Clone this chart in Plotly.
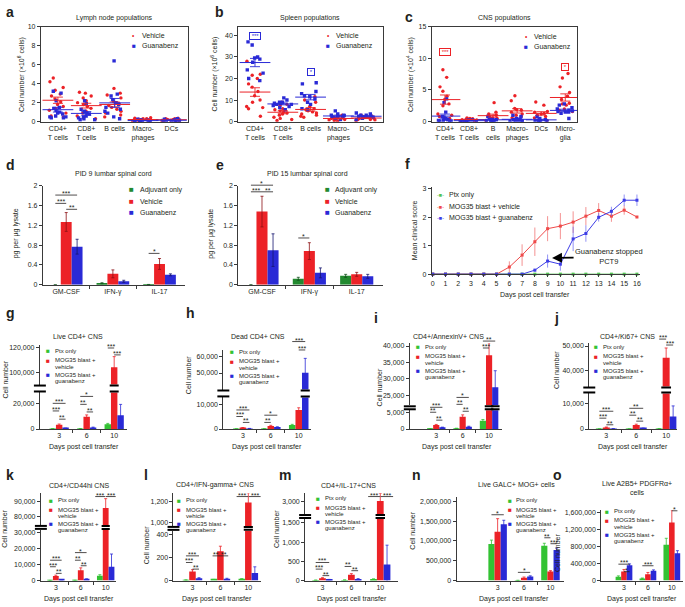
import numpy as np
import plotly.graph_objects as go

W, H = 685, 607
FONT = "Liberation Sans, Arial, Helvetica, sans-serif"
TXT = "#231f20"
AX = "#3a3a3a"
RED = "#ec2227"
BLUE = "#2a2ad6"
GREEN = "#33c233"
GREEN_D = "#22892f"

# ---------------- data ----------------
cells_ab = ["CD4+<br>T cells", "CD8+<br>T cells", "B cells", "Macro-<br>phages", "DCs"]
cells_c = ["CD4+<br>T cells", "CD8+<br>T cells", "B<br>cells", "Macro-<br>phages", "DCs", "Micro-<br>glia"]

lymph_vehicle = [
    [4.6, 4.2, 3.6, 3.3, 2.9, 2.7, 2.4, 2.1, 1.8, 1.6, 1.4, 1.2, 0.9, 0.6, 0.5],
    [3.1, 3.0, 2.7, 2.5, 2.2, 2.0, 1.8, 1.6, 1.4, 1.1, 0.9, 0.6, 0.4, 0.3],
    [3.5, 3.0, 2.8, 2.5, 2.1, 1.9, 1.7, 1.5, 1.3, 1.1, 0.9, 0.7, 0.5],
    [0.42, 0.36, 0.32, 0.3, 0.26, 0.22, 0.2, 0.16, 0.14, 0.1, 0.1, 0.08],
    [0.36, 0.32, 0.3, 0.26, 0.22, 0.2, 0.16, 0.14, 0.12, 0.1, 0.08],
]
lymph_guanabenz = [
    [3.2, 3.0, 2.2, 1.5, 1.4, 1.2, 1.0, 0.9, 0.8, 0.6, 0.5, 0.5, 0.4, 0.4],
    [2.2, 1.9, 1.3, 1.1, 0.9, 0.8, 0.6, 0.5, 0.4, 0.3, 0.2, 0.2],
    [6.4, 2.9, 2.7, 2.3, 2.0, 1.8, 1.5, 1.3, 1.1, 0.9, 0.5, 0.3],
    [0.26, 0.2, 0.16, 0.12, 0.1, 0.08, 0.06, 0.05, 0.04, 0.03],
    [0.3, 0.25, 0.2, 0.15, 0.12, 0.1, 0.08, 0.06, 0.05],
]
spleen_vehicle = [
    [28.0, 22.0, 21.5, 20.0, 17.5, 16.0, 14.0, 12.0, 10.0, 9.0, 7.0, 6.5, 6.0, 2.5],
    [9.0, 8.0, 7.5, 6.0, 5.5, 5.0, 4.5, 4.0, 3.5, 3.0, 2.0, 1.5, 1.0, 0.5],
    [11.5, 10.0, 9.0, 7.0, 6.0, 5.5, 5.0, 4.5, 4.0, 3.5, 3.0, 2.5, 2.0],
    [3.0, 2.5, 2.0, 2.0, 1.5, 1.5, 1.0, 1.0, 0.8, 0.5, 0.3],
    [3.0, 2.5, 2.5, 2.0, 2.0, 1.5, 1.5, 1.0, 1.0, 0.8, 0.5],
]
spleen_guanabenz = [
    [37.0, 35.5, 30.0, 29.5, 29.0, 27.5, 24.0, 22.5, 20.0, 19.0],
    [11.0, 10.0, 9.0, 9.0, 8.5, 8.5, 8.0, 8.0, 7.5, 7.0, 6.5, 5.5],
    [18.0, 17.5, 14.0, 13.0, 12.0, 11.5, 10.5, 9.0, 8.0, 6.0, 5.5],
    [5.0, 3.5, 3.0, 3.0, 2.8, 2.5, 2.0, 2.0, 1.5, 1.0],
    [4.0, 3.5, 3.0, 3.0, 2.5, 2.5, 2.0, 2.0, 1.5, 1.0],
]
cns_vehicle = [
    [8.2, 7.0, 5.5, 4.8, 4.0, 3.5, 2.8, 2.5, 1.2, 1.0, 0.8, 0.5],
    [0.6, 0.5, 0.45, 0.4, 0.35, 0.3, 0.3, 0.25, 0.2, 0.15, 0.1],
    [3.0, 1.5, 1.2, 1.0, 0.9, 0.8, 0.6, 0.5, 0.4, 0.3, 0.2],
    [4.1, 3.3, 2.1, 1.9, 1.8, 1.5, 1.2, 1.0, 0.8, 0.6, 0.4],
    [3.1, 2.6, 1.6, 1.5, 1.3, 1.2, 1.0, 0.8, 0.6, 0.4, 0.2],
    [7.6, 6.9, 5.5, 4.6, 4.0, 3.5, 2.9, 2.8, 2.6, 2.0, 1.8, 1.6],
]
cns_guanabenz = [
    [3.6, 3.0, 1.5, 0.8, 0.6, 0.5, 0.4, 0.3, 0.2, 0.2, 0.1, 0.1, 0.05],
    [0.3, 0.25, 0.2, 0.15, 0.1, 0.1, 0.05, 0.05],
    [0.8, 0.5, 0.4, 0.3, 0.2, 0.15, 0.1, 0.1, 0.05],
    [1.0, 0.8, 0.5, 0.4, 0.3, 0.2, 0.2, 0.1, 0.1, 0.05],
    [0.8, 0.5, 0.3, 0.2, 0.2, 0.1, 0.1, 0.05],
    [2.8, 2.6, 2.2, 2.0, 1.8, 1.7, 1.6, 1.5, 1.5, 1.3, 0.5],
]

cytokines = ["GM-CSF", "IFN-γ", "IL-17"]
pid9_adjuvant = [0.0, 0.03, 0.005]
pid9_adjuvant_err = [0.0, 0.01, 0.0]
pid9_vehicle = [1.27, 0.22, 0.42]
pid9_vehicle_err = [0.19, 0.08, 0.11]
pid9_guanabenz = [0.77, 0.07, 0.20]
pid9_guanabenz_err = [0.15, 0.02, 0.02]
pid15_adjuvant = [0.0, 0.12, 0.18]
pid15_adjuvant_err = [0.0, 0.03, 0.03]
pid15_vehicle = [1.48, 0.68, 0.21]
pid15_vehicle_err = [0.31, 0.17, 0.04]
pid15_guanabenz = [0.70, 0.24, 0.17]
pid15_guanabenz_err = [0.33, 0.10, 0.04]

days_f = [0, 1, 2, 3, 4, 5, 6, 7, 8, 9, 10, 11, 12, 13, 14, 15, 16]
score_ptx = [0, 0, 0, 0, 0, 0, 0, 0, 0, 0, 0, 0, 0, 0, 0, 0, 0]
score_vehicle = [0, 0, 0, 0, 0, 0, 0.25, 0.67, 1.14, 1.60, 1.69, 1.83, 2.04, 2.24, 2.04, 2.25, 2.01]
sem_vehicle = [0, 0, 0, 0, 0, 0, 0.2, 0.38, 0.5, 0.44, 0.46, 0.38, 0.32, 0.26, 0.2, 0.16, 0.0]
score_guanabenz = [0, 0, 0, 0, 0, 0, 0, 0, 0.14, 0.46, 0.35, 1.24, 1.43, 2.0, 2.21, 2.6, 2.6]
sem_guanabenz = [0, 0, 0, 0, 0, 0, 0, 0, 0.05, 0.23, 0.23, 0.43, 0.29, 0.15, 0.16, 0.2, 0.2]

days = ["3", "6", "10"]
live_cd4_ptx, live_cd4_ptx_err = [200, 300, 3800], [0, 0, 600]
live_cd4_veh, live_cd4_veh_err = [3300, 9500, 104500], [600, 1500, 8500]
live_cd4_gua, live_cd4_gua_err = [600, 1200, 10800], [100, 300, 8400]
dead_cd4_ptx, dead_cd4_ptx_err = [50, 100, 1600], [0, 0, 300]
dead_cd4_veh, dead_cd4_veh_err = [500, 1200, 7700], [100, 300, 900]
dead_cd4_gua, dead_cd4_gua_err = [200, 800, 50200], [50, 100, 8700]
annexin_ptx, annexin_ptx_err = [100, 200, 2500], [20, 50, 400]
annexin_veh, annexin_veh_err = [1200, 3700, 37200], [200, 600, 3800]
annexin_gua, annexin_gua_err = [500, 700, 27500], [80, 150, 5000]
ki67_ptx, ki67_ptx_err = [20, 30, 100], [0, 0, 0]
ki67_veh, ki67_veh_err = [650, 1600, 45200], [150, 300, 4000]
ki67_gua, ki67_gua_err = [100, 300, 4900], [30, 80, 4200]
cd44_ptx, cd44_ptx_err = [100, 150, 3100], [0, 0, 600]
cd44_veh, cd44_veh_err = [2800, 6500, 85500], [600, 1500, 6500]
cd44_gua, cd44_gua_err = [500, 900, 8700], [100, 200, 8000]
ifng_ptx, ifng_ptx_err = [5, 10, 15], [0, 0, 0]
ifng_veh, ifng_veh_err = [80, 255, 1190], [15, 45, 90]
ifng_gua, ifng_gua_err = [20, 15, 65], [5, 5, 55]
il17_ptx, il17_ptx_err = [10, 15, 40], [0, 0, 0]
il17_veh, il17_veh_err = [60, 150, 3000], [15, 30, 300]
il17_gua, il17_gua_err = [25, 40, 420], [5, 10, 500]
galc_ptx, galc_ptx_err = [920000, 5000, 880000], [100000, 2000, 60000]
galc_veh, galc_veh_err = [1230000, 70000, 230000], [330000, 20000, 20000]
galc_gua, galc_gua_err = [1420000, 100000, 770000], [100000, 20000, 50000]
a2b5_ptx, a2b5_ptx_err = [90000, 50000, 840000], [20000, 10000, 150000]
a2b5_veh, a2b5_veh_err = [210000, 150000, 1360000], [50000, 40000, 300000]
a2b5_gua, a2b5_gua_err = [360000, 230000, 640000], [30000, 20000, 60000]

# ---------------- helpers ----------------
fig = go.Figure()
shapes, annotations = [], []
layout = dict(width=W, height=H, margin=dict(l=0, r=0, t=0, b=0), paper_bgcolor="white",
              plot_bgcolor="white", showlegend=False, barmode="group", bargap=0.3,
              boxmode="overlay", font=dict(family=FONT, size=7, color=TXT))
BARW = (1 - 0.3) / 3
cnt = {"x": 0, "y": 0}


def X(px):
    return px / W


def Y(py):
    return 1 - py / H


def new_ax(letter):
    cnt[letter] += 1
    n = cnt[letter]
    return (f"{letter}axis" if n == 1 else f"{letter}axis{n}"), (letter if n == 1 else f"{letter}{n}")


def base_axis(**kw):
    d = dict(showline=True, linecolor=AX, linewidth=1, ticks="outside", ticklen=3, tickwidth=1,
             tickcolor=AX, showgrid=False, zeroline=False, fixedrange=True,
             tickfont=dict(family=FONT, size=7, color=TXT))
    d.update(kw)
    return d


def text(x, y, s, size=7, bold=False, angle=0, xanchor="center", yanchor="middle", color=TXT):
    annotations.append(dict(xref="paper", yref="paper", x=X(x), y=Y(y),
                            text=f"<b>{s}</b>" if bold else s, showarrow=False,
                            font=dict(family=FONT, size=size, color=color), textangle=angle,
                            xanchor=xanchor, yanchor=yanchor, align="center"))


def legend_block(xs, rows, labels, colors, symbols="■", size=7, sym_size=8, gap=5, line_dy=7):
    if isinstance(symbols, str):
        symbols = [symbols] * len(labels)
    for ypx, lab, col, sym in zip(rows, labels, colors, symbols):
        text(xs, ypx, f'<span style="color:{col}">{sym}</span>', size=sym_size)
        for k, line in enumerate(lab.split("<br>")):
            text(xs + gap, ypx + k * line_dy, line, size=size, xanchor="left")


def sig(xref, day, a, b, ypx, s):
    xa = day + (a - 1) * BARW
    xb = day + (b - 1) * BARW
    shapes.append(dict(type="line", xref=xref, yref="paper", x0=xa, x1=xb, y0=Y(ypx), y1=Y(ypx),
                       line=dict(color=TXT, width=0.8)))
    annotations.append(dict(xref=xref, yref="paper", x=(xa + xb) / 2, y=Y(ypx), text=s,
                            showarrow=False, yanchor="bottom", yshift=-4,
                            font=dict(family=FONT, size=7, color=TXT)))


def dot_panel(cats, veh, gua, x0, x1, ytop, ybot, yrange, yticks, xrange):
    xn, xr = new_ax("x")
    yn, yr = new_ax("y")
    layout[xn] = base_axis(domain=[X(x0), X(x1)], anchor=yr, type="category", range=xrange,
                           mirror=True, ticks="", categoryorder="array", categoryarray=cats)
    layout[yn] = base_axis(domain=[Y(ybot), Y(ytop)], anchor=xr, range=yrange, tickvals=yticks,
                           mirror=True)
    for vals, color, sym in ((veh, RED, "circle"), (gua, BLUE, "square")):
        xs = [c for c, v in zip(cats, vals) for _ in v]
        ys = [y for v in vals for y in v]
        fig.add_trace(go.Box(x=xs, y=ys, xaxis=xr, yaxis=yr, boxpoints="all", jitter=1, pointpos=0,
                             width=0.75, fillcolor="rgba(0,0,0,0)",
                             line=dict(width=0, color="rgba(0,0,0,0)"),
                             marker=dict(color=color, size=3.4, symbol=sym), hoverinfo="skip"))
    for vals, color in ((veh, RED), (gua, BLUE)):
        means = [float(np.mean(v)) for v in vals]
        sems = [float(np.std(v, ddof=1) / np.sqrt(len(v))) for v in vals]
        fig.add_trace(go.Scatter(x=cats, y=means, xaxis=xr, yaxis=yr, mode="markers",
                                 marker=dict(symbol="line-ew", size=22, line=dict(color=color, width=1)),
                                 error_y=dict(type="data", array=sems, color=color, thickness=0.9, width=5),
                                 hoverinfo="skip"))
    return xr, yr


def sig_box(xr, yr, cat, yval, s, color):
    annotations.append(dict(xref=xr, yref=yr, x=cat, y=yval, text=f"&nbsp;{s}&nbsp;", showarrow=False,
                            bordercolor=color, borderwidth=1, borderpad=0,
                            font=dict(family=FONT, size=6, color=color)))


def bar_x(ax_px, spacing, anchor, xrange, ticktext):
    xn, xr = new_ax("x")
    layout[xn] = base_axis(domain=[X(ax_px), X(ax_px + (xrange[1] - xrange[0]) * spacing)],
                           anchor=anchor, range=list(xrange), tickmode="array", tickvals=[0, 1, 2],
                           ticktext=ticktext, ticks="",
                           minor=dict(tickmode="array", tickvals=[0.5, 1.5], ticks="outside",
                                      ticklen=3, tickcolor=AX))
    return xr


def add_bars(xr, yr, series, errcolors=None, clip_top=None, upper=False):
    for k, (vals, errs, color) in enumerate(series):
        ec = errcolors[k] if errcolors else color
        if clip_top is not None:
            errs = [e if ((v > clip_top) == upper) else 0 for v, e in zip(vals, errs)]
        fig.add_trace(go.Bar(x=[0, 1, 2], y=vals, xaxis=xr, yaxis=yr, marker=dict(color=color, line=dict(width=0)),
                             error_y=dict(type="data", array=errs, color=ec, thickness=0.8, width=1.5),
                             hoverinfo="skip"))


def broken_panel(ax_px, spacing, xrange, lo_px, lo_rng, lo_ticks, up_px, up_rng, up_ticks, series):
    yln, ylr = new_ax("y")
    yun, yur = new_ax("y")
    xr = bar_x(ax_px, spacing, ylr, xrange, days)
    layout[yln] = base_axis(domain=[Y(lo_px[1]), Y(lo_px[0])], anchor=xr, range=lo_rng,
                            tickvals=lo_ticks, tickformat=",")
    layout[yun] = base_axis(domain=[Y(up_px[1]), Y(up_px[0])], anchor=xr, range=up_rng,
                            tickvals=up_ticks, tickformat=",")
    add_bars(xr, ylr, series, clip_top=lo_rng[1], upper=False)
    add_bars(xr, yur, series, clip_top=lo_rng[1], upper=True)
    for k, (vals, errs, color) in enumerate(series):
        for d, v in enumerate(vals):
            if v > lo_rng[1]:
                xc = d + (k - 1) * BARW
                for ypx in (lo_px[0] - 1, up_px[1] + 1):
                    shapes.append(dict(type="line", xref=xr, yref="paper", x0=xc - 0.7 * BARW,
                                       x1=xc + 0.7 * BARW, y0=Y(ypx), y1=Y(ypx),
                                       line=dict(color="black", width=2)))
    for ypx in (lo_px[0] - 1, up_px[1] + 1):
        shapes.append(dict(type="line", xref="paper", yref="paper", x0=X(ax_px - 6), x1=X(ax_px + 6),
                           y0=Y(ypx), y1=Y(ypx), line=dict(color="black", width=2)))
    return xr


def single_bar_panel(ax_px, spacing, xrange, px, rng, ticks, series):
    yn, yr = new_ax("y")
    xr = bar_x(ax_px, spacing, yr, xrange, days)
    layout[yn] = base_axis(domain=[Y(px[1]), Y(px[0])], anchor=xr, range=rng, tickvals=ticks,
                           tickformat=",")
    add_bars(xr, yr, series)
    return xr


GRP_LABELS = ["Ptx only", "MOG35 blast +<br>vehicle", "MOG35 blast +<br>guanabenz"]
GRP_COLORS = [GREEN, RED, BLUE]


def grp_legend(xs, y0):
    legend_block(xs, [y0, y0 + 9.5, y0 + 24], GRP_LABELS, GRP_COLORS, size=6, sym_size=6.5,
                 gap=5, line_dy=6.5)


DOT_SYMS = ["•", "■"]

# ---------------- a ----------------
xa_, ya_ = dot_panel(cells_ab, lymph_vehicle, lymph_guanabenz, 40, 188, 23, 119, [0, 10],
                     [0, 2, 4, 6, 8, 10], [-0.6, 4.6])
text(3, 8, "a", size=14, bold=True, xanchor="left")
text(114, 14, "Lymph node populations")
text(20, 71, "Cell number (×10<sup>6</sup> cells)", angle=-90)
legend_block(133, [32, 42], ["Vehicle", "Guanabenz"], [RED, BLUE], symbols=DOT_SYMS, sym_size=6.5, gap=6)

# ---------------- b ----------------
xb_, yb_ = dot_panel(cells_ab, spleen_vehicle, spleen_guanabenz, 238, 383, 23, 119, [0, 44],
                     [0, 10, 20, 30, 40], [-0.6, 4.6])
text(213, 8, "b", size=14, bold=True, xanchor="left")
text(310, 14, "Spleen populations")
text(214, 71, "Cell number (×10<sup>6</sup> cells)", angle=-90)
legend_block(328, [32, 42], ["Vehicle", "Guanabenz"], [RED, BLUE], symbols=DOT_SYMS, sym_size=6.5, gap=6)
sig_box(xb_, yb_, cells_ab[0], 39.5, "***", BLUE)
sig_box(xb_, yb_, cells_ab[2], 23, "*", BLUE)

# ---------------- c ----------------
xc_, yc_ = dot_panel(cells_c, cns_vehicle, cns_guanabenz, 432, 578, 23, 119, [0, 15],
                     [0, 5, 10, 15], [-0.55, 5.5])
text(403, 13, "c", size=14, bold=True, xanchor="left")
text(505, 14, "CNS populations")
text(410, 71, "Cell number (×10<sup>4</sup> cells)", angle=-90)
legend_block(527, [33, 43], ["Vehicle", "Guanabenz"], [RED, BLUE], symbols=DOT_SYMS, sym_size=6.5, gap=6)
sig_box(xc_, yc_, cells_c[0], 11, "***", RED)
sig_box(xc_, yc_, cells_c[5], 8.6, "*", RED)

# ---------------- d / e ----------------
CYTO_COLORS = [GREEN_D, RED, BLUE]
CYTO_ERR = ["#124f1a", "#8c1014", "#15156e"]
for (ax_px, spacing, series, letter, lx, title, tx, sigs) in (
    (42, 46.8, [(pid9_adjuvant, pid9_adjuvant_err, GREEN_D), (pid9_vehicle, pid9_vehicle_err, RED),
                (pid9_guanabenz, pid9_guanabenz_err, BLUE)], "d", 3, "PID 9 lumbar spinal cord", 113,
     [(0, 0, 2, 193.3, "***"), (0, 0, 1, 201.7, "***"), (0, 1, 2, 207.7, "**"), (2, 0, 1, 252.3, "*")]),
    (238, 47.5, [(pid15_adjuvant, pid15_adjuvant_err, GREEN_D), (pid15_vehicle, pid15_vehicle_err, RED),
                 (pid15_guanabenz, pid15_guanabenz_err, BLUE)], "e", 214, "PID 15 lumbar spinal cord", 307,
     [(0, 0, 2, 183.3, "*"), (0, 0, 1, 190, "***"), (0, 1, 2, 190, "**"), (1, 0, 1, 236.7, "*")]),
):
    yn, yr = new_ax("y")
    xr = bar_x(ax_px, spacing, yr, (-0.5, 2.55), cytokines)
    layout[yn] = base_axis(domain=[Y(284), Y(184)], anchor=xr, range=[0, 2],
                           tickvals=[0, 0.4, 0.8, 1.2, 1.6, 2])
    add_bars(xr, yr, series, errcolors=CYTO_ERR)
    for s in sigs:
        sig(xr, *s)
    text(lx, 163, letter, size=14, bold=True, xanchor="left")
    text(tx, 172, title)
    text(ax_px - 27, 232, "pg per µg lysate", angle=-90)
    legend_block(ax_px + 89, [188, 199.5, 211], ["Adjuvant only", "Vehicle", "Guanabenz"],
                 CYTO_COLORS, size=7, sym_size=8, gap=6)

# ---------------- f ----------------
yfn, yfr = new_ax("y")
xfn, xfr = new_ax("x")
layout[xfn] = base_axis(domain=[X(432), X(641)], anchor=yfr, range=[-0.08, 16.25],
                        tickvals=days_f, ticklen=2)
layout[yfn] = base_axis(domain=[Y(273.3), Y(185)], anchor=xfr, range=[0, 3.07], tickvals=[0, 1, 2, 3])
for ys, err, col, ecol in ((score_ptx, None, "#52c452", None),
                           (score_vehicle, sem_vehicle, "#ef4a4a", "rgba(240,110,110,0.75)"),
                           (score_guanabenz, sem_guanabenz, "#3d3de6", "rgba(110,110,240,0.75)")):
    fig.add_trace(go.Scatter(x=days_f, y=ys, xaxis=xfr, yaxis=yfr, mode="lines+markers",
                             line=dict(color=col, width=1), marker=dict(symbol="square", size=3, color=col),
                             error_y=(dict(type="data", array=err, color=ecol, thickness=1, width=0)
                                      if err else None),
                             cliponaxis=False, hoverinfo="skip"))
text(403, 162, "f", size=14, bold=True, xanchor="left")
text(415, 229, "Mean clinical score", angle=-90)
text(536, 294, "Days post cell transfer")
annotations.append(dict(xref=xfr, yref=yfr, x=9.35, y=0.57, ax=57, ay=-1, text="Guanabenz stopped<br>PCT9",
                        showarrow=True, arrowhead=2, arrowsize=1.1, arrowwidth=1.8, arrowcolor="black",
                        font=dict(family=FONT, size=7.5, color=TXT), align="center"))
legend_block(441, [193, 205, 216.5], ["Ptx only", "MOG35 blast + vehicle", "MOG35 blast + guanabenz"],
             ["#52c452", "#ef4a4a", "#3d3de6"], symbols="-■-", sym_size=5.5, gap=6)

# ---------------- g ----------------
xg = broken_panel(39, 27.6, (-0.7, 2.45), (393, 430), [0, 28500], [0, 20000], (345, 385),
                  [90400, 122400], [100000, 120000],
                  [(live_cd4_ptx, live_cd4_ptx_err, GREEN), (live_cd4_veh, live_cd4_veh_err, RED),
                   (live_cd4_gua, live_cd4_gua_err, BLUE)])
for s in [(0, 0, 2, 404, "***"), (0, 0, 1, 411.7, "***"), (0, 1, 2, 420, "**"),
          (1, 0, 2, 397, "*"), (1, 0, 1, 405, "**"), (1, 1, 2, 412.7, "**"),
          (2, 0, 1, 348, "***"), (2, 1, 2, 355, "***")]:
    sig(xg, *s)
text(3, 313, "g", size=14, bold=True, xanchor="left")
text(77, 336, "Live CD4+ CNS")
text(5, 380, "Cell number", angle=-90)
text(83, 448, "Days post cell transfer")
grp_legend(47, 351)

# ---------------- h ----------------
xh = broken_panel(223, 28, (-0.7, 2.45), (398, 430), [0, 12800], [0, 10000], (350, 390),
                  [40000, 64000], [50000, 60000],
                  [(dead_cd4_ptx, dead_cd4_ptx_err, GREEN), (dead_cd4_veh, dead_cd4_veh_err, RED),
                   (dead_cd4_gua, dead_cd4_gua_err, BLUE)])
for s in [(0, 0, 2, 410.7, "***"), (0, 0, 1, 417.3, "***"), (0, 1, 2, 423.3, "**"),
          (1, 0, 2, 416, "*"), (1, 0, 1, 423.3, "**"),
          (2, 0, 2, 341.5, "***"), (2, 1, 2, 350, "***")]:
    sig(xh, *s)
text(184, 313, "h", size=14, bold=True, xanchor="left")
text(258, 336, "Dead CD4+ CNS")
text(188, 375, "Cell number", angle=-90)
text(267, 448, "Days post cell transfer")
grp_legend(232, 352)

# ---------------- i ----------------
xi = broken_panel(410, 26.5, (-1.0, 2.5), (411, 430), [0, 5700], [0, 5000], (343, 406), [22000, 40900],
                  [25000, 30000, 35000, 40000],
                  [(annexin_ptx, annexin_ptx_err, GREEN), (annexin_veh, annexin_veh_err, RED),
                   (annexin_gua, annexin_gua_err, BLUE)])
for s in [(0, 0, 2, 408, "***"), (0, 0, 1, 413, "**"), (0, 1, 2, 421, "**"),
          (1, 0, 2, 398, "*"), (1, 0, 1, 405, "**"), (1, 1, 2, 412, "**"),
          (2, 0, 2, 341, "**"), (2, 0, 1, 348, "***")]:
    sig(xi, *s)
text(372, 318, "i", size=14, bold=True, xanchor="left")
text(449, 336, "CD4+/AnnexinV+ CNS")
text(380, 388, "Cell number", angle=-90)
text(457, 448, "Days post cell transfer")
grp_legend(418, 347)

# ---------------- j ----------------
xj = broken_panel(590, 30, (-0.57, 2.35), (394, 430), [0, 14000], [0, 10000], (343, 387),
                  [33600, 51200], [40000, 50000],
                  [(ki67_ptx, ki67_ptx_err, GREEN), (ki67_veh, ki67_veh_err, RED),
                   (ki67_gua, ki67_gua_err, BLUE)])
for s in [(0, 0, 2, 412, "***"), (0, 0, 1, 419, "***"), (0, 1, 2, 425.7, "**"),
          (1, 0, 2, 409, "**"), (1, 0, 1, 416, "**"), (1, 1, 2, 422, "**"),
          (2, 0, 1, 339, "***"), (2, 1, 2, 345, "***")]:
    sig(xj, *s)
text(553, 318, "j", size=14, bold=True, xanchor="left")
text(628, 336, "CD4+/Ki67+ CNS")
text(557, 370, "Cell number", angle=-90)
text(634, 448, "Days post cell transfer")
grp_legend(597, 347)

# ---------------- k ----------------
xk = broken_panel(40, 25, (-0.6, 2.4), (532, 583.3), [0, 31900], [0, 10000, 20000, 30000], (495, 527),
                  [73900, 95700], [80000, 90000],
                  [(cd44_ptx, cd44_ptx_err, GREEN), (cd44_veh, cd44_veh_err, RED),
                   (cd44_gua, cd44_gua_err, BLUE)])
for s in [(0, 0, 2, 562.7, "***"), (0, 0, 1, 569.3, "***"), (0, 1, 2, 576, "**"),
          (1, 0, 2, 555, "*"), (1, 0, 1, 562.7, "**"), (1, 1, 2, 568.3, "**"),
          (2, -0.8, 0.95, 498.3, "***"), (2, 1.05, 2.9, 498.3, "***")]:
    sig(xk, *s)
text(3, 476, "k", size=14, bold=True, xanchor="left")
text(78, 487, "CD4+/CD44hi CNS")
text(4, 531, "Cell number", angle=-90)
text(78, 602, "Days post cell transfer")
grp_legend(50, 502)

# ---------------- l ----------------
xl = broken_panel(173, 28, (-0.68, 2.45), (533, 583.3), [0, 434], [0, 200, 400], (495, 528),
                  [972, 1276], [1000, 1200],
                  [(ifng_ptx, ifng_ptx_err, GREEN), (ifng_veh, ifng_veh_err, RED),
                   (ifng_gua, ifng_gua_err, BLUE)])
for s in [(0, 0, 2, 558.3, "***"), (0, 0, 1, 565, "***"), (0, 1, 2, 571.7, "**"),
          (1, -0.2, 1, 558.3, "**"), (1, 1, 2.2, 558.3, "**"),
          (2, -0.8, 0.95, 498.3, "***"), (2, 1.05, 2.9, 498.3, "***")]:
    sig(xl, *s)
text(141, 476, "l", size=14, bold=True, xanchor="left")
text(215, 487, "CD4+/IFN-gamma+ CNS")
text(146, 548, "Cell number", angle=-90)
text(217, 602, "Days post cell transfer")
grp_legend(179, 502)

# ---------------- m ----------------
xm = broken_panel(305, 29, (-0.6, 2.6), (521, 583.3), [0, 1600], [0, 500, 1000, 1500], (495, 516),
                  [2500, 3300], [3000],
                  [(il17_ptx, il17_ptx_err, GREEN), (il17_veh, il17_veh_err, RED),
                   (il17_gua, il17_gua_err, BLUE)])
for s in [(0, 0, 2, 565, "***"), (0, 0, 1, 571.7, "***"), (0, 1, 2, 578.3, "**"),
          (1, 0, 1, 569, "**"), (1, 1, 2, 573.3, "**"),
          (2, -0.8, 0.95, 498.3, "***"), (2, 1.05, 2.9, 498.3, "***")]:
    sig(xm, *s)
text(277, 476, "m", size=14, bold=True, xanchor="left")
text(349, 487, "CD4+/IL-17+CNS")
text(277, 531, "Cell number", angle=-90)
text(352, 602, "Days post cell transfer")
grp_legend(318, 500)

# ---------------- n ----------------
xn_ = single_bar_panel(457, 26.5, (-1.55, 2.5), (499, 583.3), [0, 2100000],
                       [0, 500000, 1000000, 1500000, 2000000],
                       [(galc_ptx, galc_ptx_err, GREEN), (galc_veh, galc_veh_err, RED),
                        (galc_gua, galc_gua_err, BLUE)])
for s in [(0, 0, 2, 516.7, "*"), (1, 0, 2, 575, "*"), (2, 0, 1, 540, "**"), (2, 1, 2, 546, "***")]:
    sig(xn_, *s)
text(410, 476, "n", size=14, bold=True, xanchor="left")
text(517, 486, "Live GALC+ MOG+ cells")
text(413, 533, "Cell number", angle=-90)
text(515, 602, "Days post cell transfer")
grp_legend(510, 502)

# ---------------- o ----------------
xo_ = single_bar_panel(602, 24, (-0.95, 2.45), (512, 583.3), [0, 1650000],
                       [0, 400000, 800000, 1200000, 1600000],
                       [(a2b5_ptx, a2b5_ptx_err, GREEN), (a2b5_veh, a2b5_veh_err, RED),
                        (a2b5_gua, a2b5_gua_err, BLUE)])
for s in [(0, 0, 2, 566.7, "***"), (0, 1, 2, 574.3, "*"), (1, 0, 2, 568.3, "***"), (2, 1, 2, 512.7, "*")]:
    sig(xo_, *s)
text(552, 477, "o", size=14, bold=True, xanchor="left")
text(638, 490, "Live A2B5+ PDGFRα+<br>cells")
text(558, 555, "Cell number", angle=-90)
text(643, 602, "Days post cell transfer")
grp_legend(608, 513)

layout["shapes"] = shapes
layout["annotations"] = annotations
fig.update_layout(**layout)
fig.write_html("out.html", config={"displayModeBar": False},
               post_script="document.body.style.margin='0';document.body.style.padding='0';")
